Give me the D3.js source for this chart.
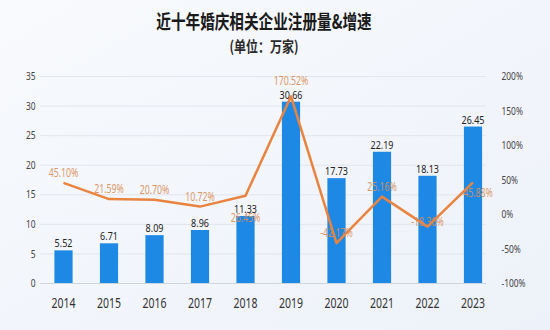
<!DOCTYPE html>
<html>
<head>
<meta charset="utf-8">
<script src="https://cdn.jsdelivr.net/npm/d3@7"></script>
<style>
html,body{margin:0;padding:0;background:#f3f6fb;}
svg{display:block;}
</style>
</head>
<body>
<svg id="chart" width="550" height="330"></svg>
<script>
// ---- data ----
const years = ['2014','2015','2016','2017','2018','2019','2020','2021','2022','2023'];
const counts = [5.52, 6.71, 8.09, 8.96, 11.33, 30.66, 17.73, 22.19, 18.13, 26.45];
const growth = [45.10, 21.59, 20.70, 10.72, 26.45, 170.52, -42.17, 25.16, -18.30, 45.88];
const leftTicks = [0, 5, 10, 15, 20, 25, 30, 35];
const rightTicks = [-100, -50, 0, 50, 100, 150, 200];
const title = '近十年婚庆相关企业注册量&增速';
const subtitle = '(单位：万家)';

// ---- layout ----
const svg = d3.select('#chart');
const W = 550, H = 330;
const plotL = 40, plotR = 486, plotT = 76, plotB = 283;
const FONT = '"Noto Sans", "Noto Sans CJK SC", sans-serif';
const CJK = '"Noto Sans CJK SC", "Noto Sans", sans-serif';

const defs = svg.append('defs');
const grad = defs.append('linearGradient').attr('id', 'bg').attr('x1', '0').attr('y1', '0').attr('x2', '1').attr('y2', '1');
grad.append('stop').attr('offset', '0').attr('stop-color', '#f8fafd');
grad.append('stop').attr('offset', '1').attr('stop-color', '#edf1f9');
svg.append('rect').attr('width', W).attr('height', H).attr('fill', 'url(#bg)');

const x = d3.scaleBand().domain(years).range([40.75, 495.75]).paddingInner(0.6).paddingOuter(0.3);
const yL = d3.scaleLinear().domain([0, 35]).range([plotB, plotT]);
const yR = d3.scaleLinear().domain([-100, 200]).range([plotB, plotT]);

function sText(sel, px, py, str, o) {
  return sel.append('text')
    .attr('transform', `translate(${px},${py}) scale(${o.sx},1)`)
    .attr('text-anchor', o.anchor || 'middle')
    .attr('font-family', o.family || FONT)
    .attr('font-size', o.size)
    .attr('font-weight', o.weight || 400)
    .attr('fill', o.fill || '#333')
    .text(str);
}

// ---- titles ----
sText(svg, 264, 29, title, {sx: 0.75, size: 19.5, weight: 700, family: CJK, fill: '#1a1a1a'});
sText(svg, 264, 52, subtitle, {sx: 0.8, size: 15, weight: 700, family: CJK, fill: '#2a2a2a'});

// ---- left axis + grid ----
const gL = svg.append('g').attr('transform', `translate(${plotL},0)`)
  .call(d3.axisLeft(yL).tickValues(leftTicks).tickSizeInner(-(plotR - plotL)).tickSizeOuter(0).tickPadding(4.5));
gL.select('.domain').remove();
gL.selectAll('.tick line').attr('stroke', d => d === 0 ? '#cfd5de' : '#e2e6ed').attr('stroke-width', 1);
gL.selectAll('.tick text')
  .attr('transform', 'scale(0.8,1)')
  .attr('x', -4.5 / 0.8)
  .attr('dy', '0.35em')
  .attr('font-family', FONT).attr('font-size', 10.5).attr('fill', '#444');

// ---- right axis ----
const gR = svg.append('g').attr('transform', `translate(${plotR},0)`)
  .call(d3.axisRight(yR).tickValues(rightTicks).tickSize(0).tickPadding(15).tickFormat(d => d + '%'));
gR.select('.domain').remove();
gR.selectAll('.tick text')
  .attr('transform', 'scale(0.8,1)')
  .attr('x', 15.5 / 0.8)
  .attr('dy', '0.35em')
  .attr('font-family', FONT).attr('font-size', 10.5).attr('fill', '#444');

// ---- bottom axis ----
const gB = svg.append('g').attr('transform', `translate(0,${plotB})`)
  .call(d3.axisBottom(x).tickSize(0).tickPadding(0));
gB.select('.domain').remove();
gB.selectAll('.tick text')
  .attr('transform', 'scale(0.75,1)')
  .attr('x', 0).attr('y', 24.7).attr('dy', 0)
  .attr('font-family', FONT).attr('font-size', 14).attr('fill', '#333');

// ---- bars ----
svg.append('g').selectAll('rect').data(counts).join('rect')
  .attr('x', (d, i) => x(years[i]))
  .attr('y', d => yL(d))
  .attr('width', x.bandwidth())
  .attr('height', d => plotB - yL(d))
  .attr('fill', '#1E88E5');

// bar value labels
const gBL = svg.append('g');
counts.forEach((d, i) => {
  sText(gBL, x(years[i]) + x.bandwidth() / 2, yL(d) - 3, d.toFixed(2), {sx: 0.78, size: 11.5, fill: '#222'});
});

// ---- growth line ----
const cx = i => x(years[i]) + x.bandwidth() / 2;
const line = d3.line().x((d, i) => cx(i)).y(d => yR(d));
svg.append('path').datum(growth)
  .attr('d', line)
  .attr('fill', 'none')
  .attr('stroke', '#E8843F')
  .attr('stroke-width', 2.5)
  .attr('stroke-linejoin', 'round');

// growth labels (label center offsets relative to point)
const labelShift = {'2018': [0, 22], '2019': [0, -15], '2022': [0, -5], '2023': [5, 11]};
const gGL = svg.append('g');
growth.forEach((d, i) => {
  const sh = labelShift[years[i]] || [0, -10];
  sText(gGL, cx(i) + sh[0], yR(d) + sh[1] + 4, d.toFixed(2) + '%', {sx: 0.73, size: 12, fill: '#D9905A'})
    .attr('opacity', 0.9);
});
</script>
</body>
</html>
